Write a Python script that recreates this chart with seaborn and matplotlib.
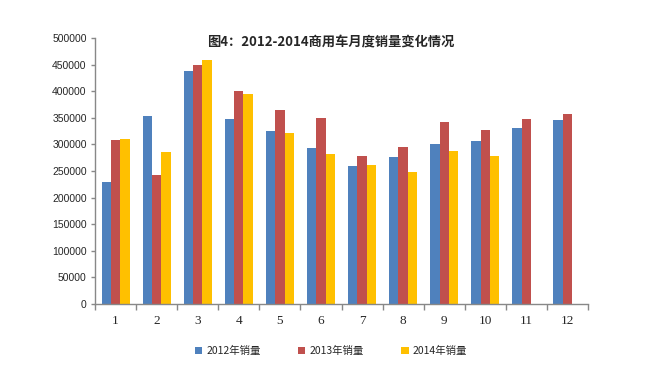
import numpy as np
import pandas as pd
import matplotlib
matplotlib.use("Agg")
import matplotlib.pyplot as plt
import seaborn as sns
from matplotlib.ticker import FixedLocator

months = [str(i) for i in range(1, 13)]
sales_2012 = [229000, 354000, 438000, 348000, 325000, 293000, 259000, 276000, 300000, 306000, 330000, 346000]
sales_2013 = [308000, 242000, 449000, 400000, 365000, 350000, 278000, 295000, 342000, 327000, 348000, 358000]
sales_2014 = [310000, 285000, 458000, 395000, 321000, 282000, 261000, 248000, 288000, 278000, np.nan, np.nan]
series_names = ["2012年销量", "2013年销量", "2014年销量"]
colors = ["#4F81BD", "#C0504D", "#FFC000"]
title = "图4：2012-2014商用车月度销量变化情况"
yticks = list(range(0, 500001, 50000))

rows = []
for name, vals in zip(series_names, [sales_2012, sales_2013, sales_2014]):
    for m, v in zip(months, vals):
        rows.append({"month": m, "series": name, "value": v})
df = pd.DataFrame(rows)

sns.set_theme(style="white")
plt.rcParams["font.family"] = ["Noto Sans CJK SC", "DejaVu Sans"]

fig = plt.figure(figsize=(6.69, 3.80), dpi=100)
ax = fig.add_axes([95/669, 76/380, 493/669, 266/380])
sns.barplot(data=df, x="month", y="value", hue="series", palette=colors,
            width=0.68, saturation=1, ax=ax, legend=True, errorbar=None,
            linewidth=0)

ax.set_ylim(0, 500000)
ax.set_xlim(-0.5, 11.5)
ax.set_yticks(yticks)
ax.set_yticklabels([str(v) for v in yticks], fontsize=7.5, family=["Liberation Sans", "DejaVu Sans"])
ax.set_xticklabels(months, fontsize=9.5, family=["Liberation Serif", "DejaVu Serif"])
ax.xaxis.set_minor_locator(FixedLocator(np.arange(-0.5, 12.0, 1.0)))
ax.tick_params(axis="x", which="major", length=0, pad=8)
ax.tick_params(axis="x", which="minor", length=4, color="#888888", width=1, direction="out", bottom=True)
ax.tick_params(axis="y", which="major", length=3, color="#888888", width=1, direction="out", left=True, pad=3)
ax.set_xlabel("")
ax.set_ylabel("")
for s in ["top", "right"]:
    ax.spines[s].set_visible(False)
for s in ["left", "bottom"]:
    ax.spines[s].set_color("#888888")
    ax.spines[s].set_linewidth(1)

fig.text(331/669, 1 - 42/380, title, ha="center", va="center", fontsize=9.5, fontweight="bold")

handles, labels = ax.get_legend_handles_labels()
ax.legend_.remove()
fig.legend(handles, labels, loc="center", bbox_to_anchor=(331/669, 1 - 351/380), ncol=3,
           frameon=False, fontsize=7.5, handlelength=0.7, handleheight=0.7,
           columnspacing=3.6, handletextpad=0.4)

fig.savefig("out.png", dpi=100)
